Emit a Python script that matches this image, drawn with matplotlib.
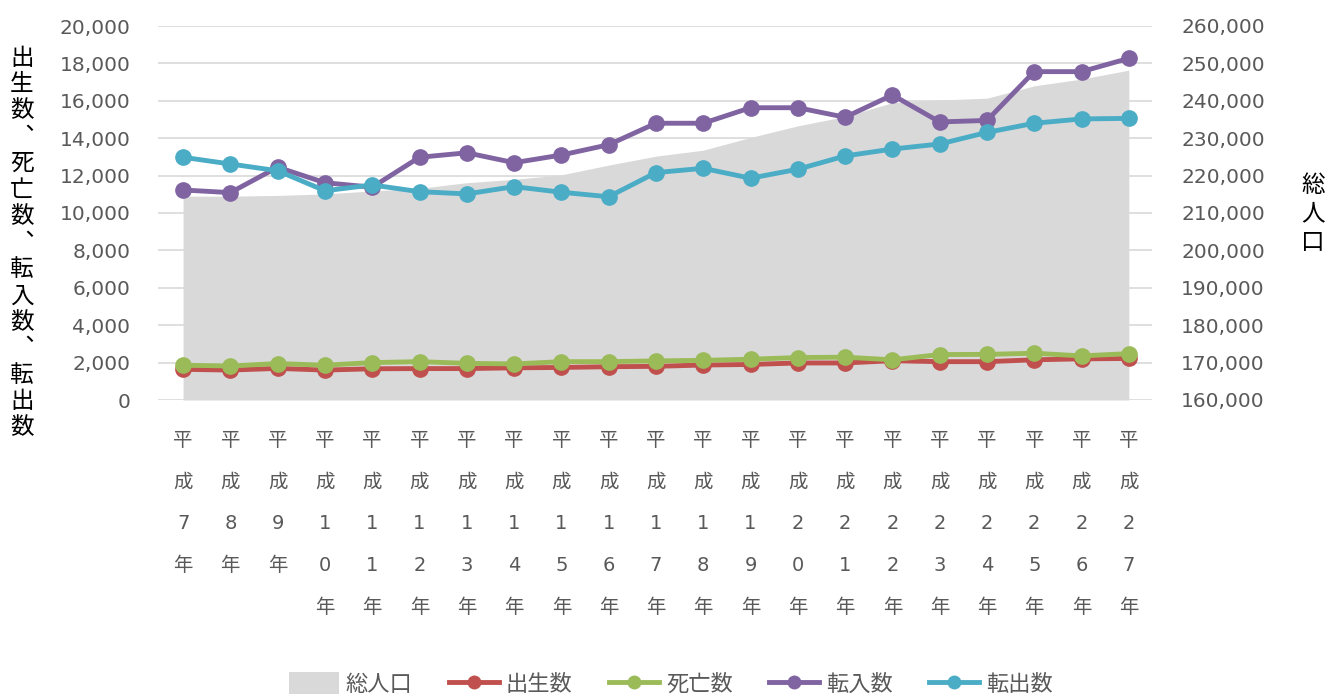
import matplotlib
matplotlib.use('Agg')
import matplotlib.pyplot as plt
from matplotlib.patches import Patch
from matplotlib.lines import Line2D
from matplotlib.ticker import FuncFormatter, MultipleLocator

# ---- data ----
years = list(range(7, 28))
labels = ['平成%d年' % y for y in years]
births = [1640, 1600, 1690, 1600, 1670, 1680, 1680, 1720, 1740, 1780, 1800,
          1870, 1900, 1980, 1980, 2100, 2050, 2050, 2150, 2200, 2220]
deaths = [1860, 1820, 1950, 1860, 2000, 2050, 1960, 1930, 2050, 2050, 2090,
          2120, 2180, 2270, 2290, 2150, 2430, 2440, 2500, 2360, 2480]
move_in = [11230, 11090, 12450, 11620, 11380, 12980, 13220, 12690, 13100, 13650, 14800,
           14800, 15630, 15630, 15120, 16310, 14870, 14950, 17560, 17560, 18270]
move_out = [12980, 12620, 12260, 11190, 11500, 11140, 11020, 11410, 11110, 10870, 12160,
            12390, 11860, 12340, 13050, 13420, 13690, 14310, 14800, 15030, 15060]
population = [214500, 214500, 214700, 215100, 215900, 216600, 218100, 219000, 220200, 222800, 225200,
              226800, 230200, 233300, 235800, 239500, 240200, 240700, 244000, 245800, 248200]

names = ['総人口', '出生数', '死亡数', '転入数', '転出数']
line_colors = ['#C0504D', '#9BBB59', '#8064A2', '#4BACC6']
area_color = '#D9D9D9'
tick_color = '#595959'

plt.rcParams['font.family'] = ['DejaVu Sans', 'Noto Sans CJK JP']

fig = plt.figure(figsize=(13.42, 6.97), dpi=100)
ax = fig.add_axes([158 / 1342, 1 - 400 / 697, (1152 - 158) / 1342, (400 - 26) / 697])
ax2 = ax.twinx()
ax.set_zorder(2)
ax2.set_zorder(1)
ax.patch.set_visible(False)

x = list(range(len(years)))

# population area (right axis)
ax2.fill_between(x, 160000, population, color=area_color, lw=0, zorder=2)
ax2.set_ylim(160000, 260000)
ax2.yaxis.set_major_locator(MultipleLocator(10000))
ax2.yaxis.set_major_formatter(FuncFormatter(lambda v, p: '{:,.0f}'.format(v)))
ax2.yaxis.grid(True, color='#D9D9D9', lw=1.2, zorder=0)
ax2.set_axisbelow(True)

# lines (left axis)
series = [births, deaths, move_in, move_out]
for vals, col, nm in zip(series, line_colors, names[1:]):
    ax.plot(x, vals, color=col, lw=3.5, marker='o', ms=11, mec=col, mfc=col,
            solid_capstyle='round', label=nm)

ax.set_ylim(0, 20000)
ax.yaxis.set_major_locator(MultipleLocator(2000))
ax.yaxis.set_major_formatter(FuncFormatter(lambda v, p: '{:,.0f}'.format(v)))
ax.set_xlim(-0.53, 20.49)
ax.set_xticks(x)
ax.set_xticklabels(['\n'.join(l) for l in labels], linespacing=2.53)

for a in (ax, ax2):
    for s in a.spines.values():
        s.set_visible(False)

ax.tick_params(axis='y', length=0, pad=20, labelsize=14.5, labelcolor=tick_color)
ax2.tick_params(axis='y', length=0, pad=21, labelsize=14.5, labelcolor=tick_color)
ax.tick_params(axis='x', length=0, pad=22, labelsize=14, labelcolor=tick_color)
ax2.tick_params(axis='x', length=0, labelbottom=False)

# axis titles (vertical stacked text)
cjk = ['Noto Sans CJK JP', 'DejaVu Sans']
left_title = '出生数︑死亡数︑転入数︑転出数'
fig.text(22 / 1342, 1 - 243 / 697, '\n'.join(left_title), ha='center', va='center',
         fontsize=17, family=cjk, color='black', linespacing=1.19)
fig.text(1313 / 1342, 1 - 214 / 697, '\n'.join('総人口'), ha='center', va='center',
         fontsize=17, family=cjk, color='black', linespacing=1.3)

# legend
handles = [Patch(facecolor=area_color, edgecolor='none')]
for col in line_colors:
    handles.append(Line2D([0], [0], color=col, lw=3.5, marker='o', ms=9, mec=col, mfc=col))
leg = fig.legend(handles, names, loc='center', bbox_to_anchor=(0.5, 1 - 684 / 697), ncol=5,
                 frameon=False, handlelength=2.25, handletextpad=0.3, handleheight=1.1,
                 columnspacing=1.65, prop={'family': cjk, 'size': 16})
for t in leg.get_texts():
    t.set_color(tick_color)

fig.savefig('out.png', dpi=100)
